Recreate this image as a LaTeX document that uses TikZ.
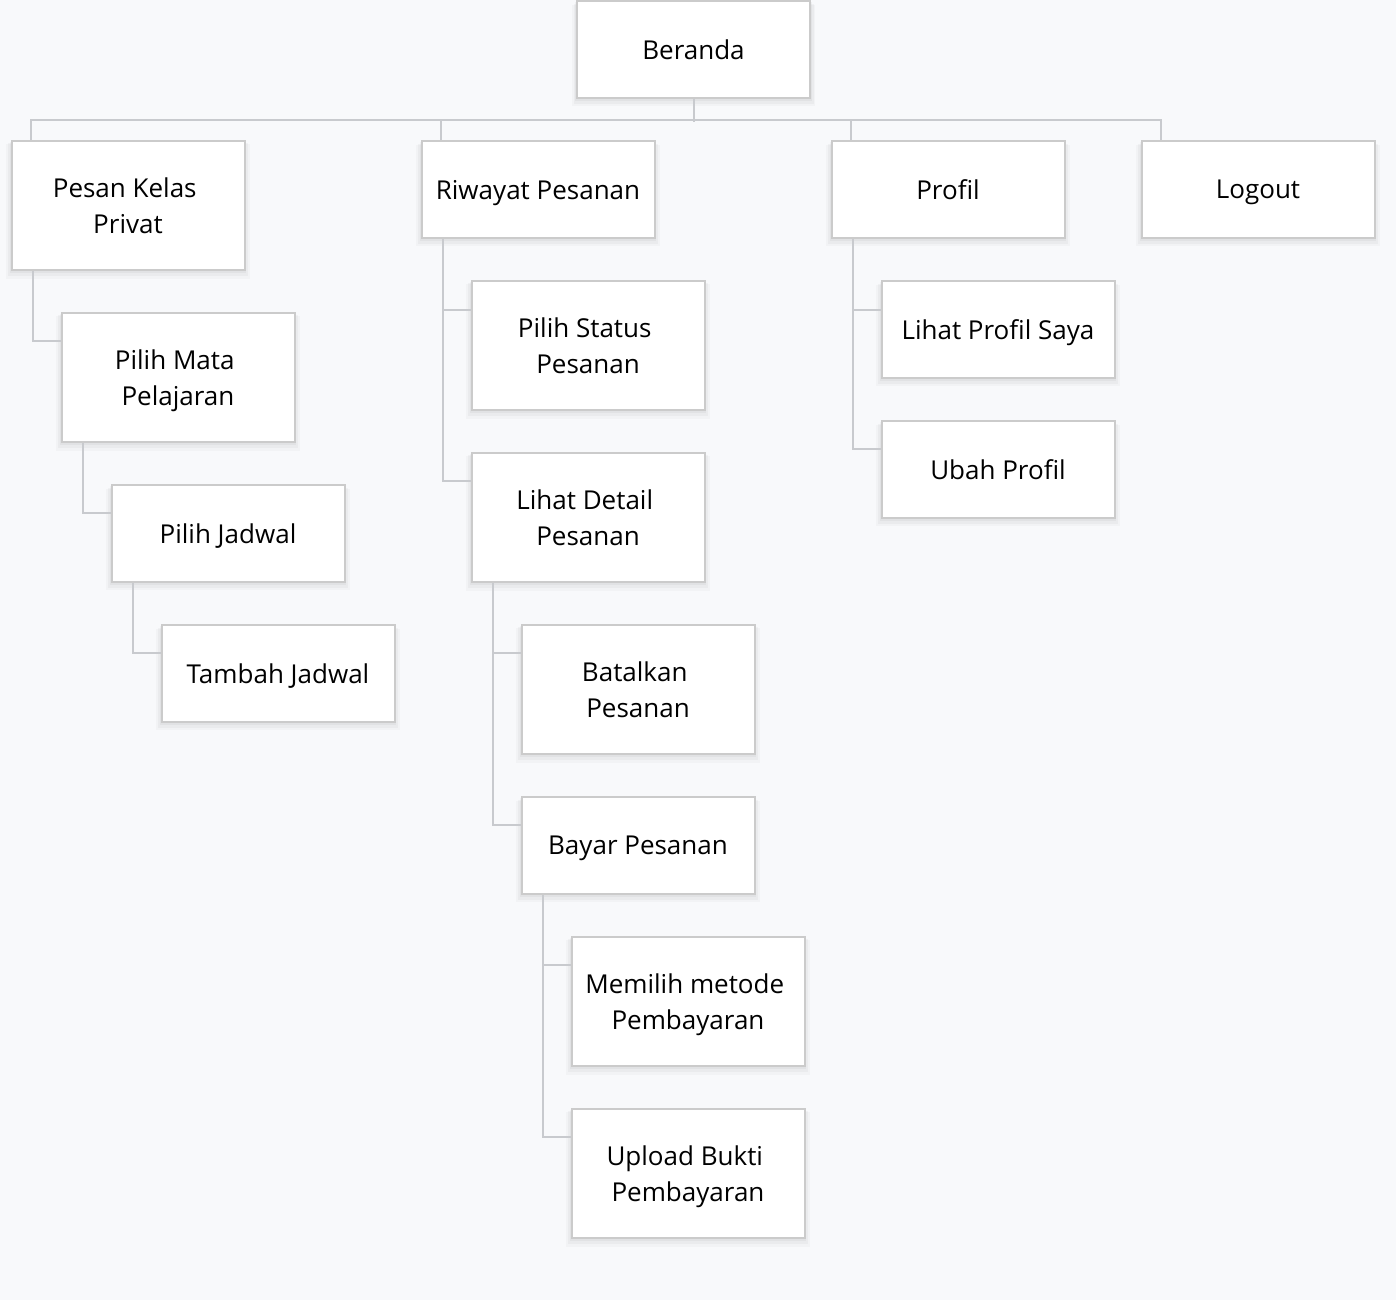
\documentclass[tikz,border=0pt]{standalone}
\usepackage{fontspec}
\setmainfont{Open Sans}
\usetikzlibrary{shadows}
\definecolor{bg}{HTML}{F8F9FB}
\definecolor{bord}{HTML}{CBCBCB}
\definecolor{conncol}{HTML}{C8CACE}
\begin{document}
\begin{tikzpicture}[x=1pt,y=-1pt,
  softshadow/.style={
    general shadow={fill=black, opacity=0.025, shadow xshift=0pt, shadow yshift=-6pt, shadow scale=1.045},
    general shadow={fill=black, opacity=0.03, shadow xshift=0pt, shadow yshift=-4pt, shadow scale=1.03},
    general shadow={fill=black, opacity=0.035, shadow xshift=0pt, shadow yshift=-2pt, shadow scale=1.015}},
  box/.style={draw=bord, line width=2pt, fill=white, minimum width=233pt, align=center,
    font=\fontsize{26}{36}\selectfont, text=black, inner sep=0pt, softshadow},
  short/.style={box, minimum height=97pt, text depth=-1pt},
  tall/.style={box, minimum height=129pt, text depth=-4pt},
  conn/.style={draw=conncol, line width=2pt}]
\fill[bg] (0,0) rectangle (1396,1300);
\useasboundingbox (0,0) rectangle (1396,1300);

\node[short] (beranda) at (693.5,49.5) {Beranda};
\node[tall]  (pesan)   at (128,205.5) {Pesan Kelas\kern6.5pt\\Privat};
\node[short] (riwayat) at (538,189.5) {Riwayat Pesanan};
\node[short] (profil)  at (948,189.5) {Profil};
\node[short] (logout)  at (1258,189.5) {Logout};

\node[tall]  (mapel)   at (178,377.5) {Pilih Mata\kern6.5pt\\Pelajaran};
\node[short] (jadwal)  at (228,533.5) {Pilih Jadwal};
\node[short] (tambah)  at (278,673.5) {Tambah Jadwal};

\node[tall]  (status)  at (588,345.5) {Pilih Status\kern6.5pt\\Pesanan};
\node[tall]  (detail)  at (588,517.5) {Lihat Detail\kern6.5pt\\Pesanan};
\node[tall]  (batal)   at (638,689.5) {Batalkan\kern6.5pt\\Pesanan};
\node[short] (bayar)   at (638,845.5) {Bayar Pesanan};
\node[tall]  (metode)  at (688,1001.5) {Memilih metode\kern6.5pt\\Pembayaran};
\node[tall]  (upload)  at (688,1173.5) {Upload Bukti\kern6.5pt\\Pembayaran};

\node[short] (lihatp)  at (998,329.5) {Lihat Profil Saya};
\node[short] (ubah)    at (998,469.5) {Ubah Profil};

% bus
\draw[conn] (beranda.south) -- ++(0,-23pt);
\draw[conn] ([xshift=20pt]pesan.north west) -- ++(0,20pt) -| ([xshift=20pt]logout.north west);
\draw[conn] ([xshift=20pt]riwayat.north west) -- ++(0,20pt);
\draw[conn] ([xshift=20pt]profil.north west) -- ++(0,20pt);

% pesan branch
\draw[conn] ([xshift=22pt]pesan.south west) |- ([yshift=-29pt]mapel.north west);
\draw[conn] ([xshift=22pt]mapel.south west) |- ([yshift=-29pt]jadwal.north west);
\draw[conn] ([xshift=22pt]jadwal.south west) |- ([yshift=-29pt]tambah.north west);

% riwayat branch
\draw[conn] ([xshift=22pt]riwayat.south west) |- ([yshift=-29pt]detail.north west);
\draw[conn] ([xshift=22pt]riwayat.south west |- status.north west) ++(0,-30pt) -- ([yshift=-30pt]status.north west);
\draw[conn] ([xshift=22pt]detail.south west) |- ([yshift=-29pt]bayar.north west);
\draw[conn] ([xshift=22pt]detail.south west |- batal.north west) ++(0,-29pt) -- ([yshift=-29pt]batal.north west);
\draw[conn] ([xshift=22pt]bayar.south west) |- ([yshift=-29pt]upload.north west);
\draw[conn] ([xshift=22pt]bayar.south west |- metode.north west) ++(0,-29pt) -- ([yshift=-29pt]metode.north west);

% profil branch
\draw[conn] ([xshift=22pt]profil.south west) |- ([yshift=-29pt]ubah.north west);
\draw[conn] ([xshift=22pt]profil.south west |- lihatp.north west) ++(0,-30pt) -- ([yshift=-30pt]lihatp.north west);
\end{tikzpicture}
\end{document}
